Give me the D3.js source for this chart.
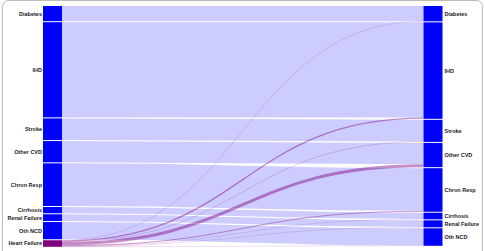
<!DOCTYPE html>
<html><head><meta charset="utf-8">
<script src="https://cdn.jsdelivr.net/npm/d3@7"></script>
<style>html,body{margin:0;padding:0;background:#fff;}svg{display:block;}</style>
</head><body>
<svg id="chart" width="485" height="251"></svg>
<script>
// Causes of death (left = assigned, right = redistributed)
const causes = ["Diabetes","IHD","Stroke","Other CVD","Chron Resp","Cirrhosis","Renal Failure","Oth NCD"];
const sourceExtra = "Heart Failure";
// values retained by each cause (left node -> same right node)
const retained = [15.2, 95.3, 21.7, 21.3, 42.7, 6.3, 6.7, 17.3];
// heart failure redistributed to each cause
const heartFailureTo = [0.15, 1.3, 0.4, 3.0, 0.9, 0.3, 0.3, 0.2];

(function(){
const svg = d3.select("#chart");
const yTop = 6, yBottom = 246.8, pad = 1;
const nodeW = 19;
const xL = 43, xR = 423.5;

const leftNodes = causes.map((c,i)=>({name:c, value:retained[i], side:"L", color:"#0000ff"}));
leftNodes.push({name:sourceExtra, value:d3.sum(heartFailureTo), side:"L", color:"#800080"});
const rightNodes = causes.map((c,i)=>({name:c, value:retained[i]+heartFailureTo[i], side:"R", color:"#0000ff"}));

const leftSum = d3.sum(leftNodes, d=>d.value);
const rightSum = d3.sum(rightNodes, d=>d.value);
const ky = Math.min((yBottom-yTop-(leftNodes.length-1)*pad)/leftSum, (yBottom-yTop-(rightNodes.length-1)*pad)/rightSum);
const k = d3.scaleLinear().domain([0,1]).range([0,ky]);

function place(nodes, x){
  let y = yTop;
  nodes.forEach(n=>{ n.x0=x; n.x1=x+nodeW; n.y0=y; n.y1=y+k(n.value); y=n.y1+pad; n.outY=n.y0; n.inY=n.y0; });
}
place(leftNodes, xL);
place(rightNodes, xR);

const links = [];
causes.forEach((c,i)=>links.push({source:leftNodes[i], target:rightNodes[i], value:retained[i], hf:false}));
causes.forEach((c,i)=>links.push({source:leftNodes[8], target:rightNodes[i], value:heartFailureTo[i], hf:true}));
links.forEach(l=>{
  const w = k(l.value);
  l.width = w;
  l.y0 = l.source.outY + w/2; l.source.outY += w;
  l.y1 = l.target.inY + w/2; l.target.inY += w;
});

const linkGen = d3.linkHorizontal().source(d=>[d.source.x1, d.y0]).target(d=>[d.target.x0, d.y1]);

svg.append("g").selectAll("path").data(links.filter(l=>!l.hf)).join("path")
  .attr("d", linkGen).attr("fill","none")
  .attr("stroke","#0000ff").attr("stroke-opacity",0.2)
  .attr("stroke-width", d=>Math.max(0.3,d.width));

svg.append("g").selectAll("path").data(links.filter(l=>l.hf)).join("path")
  .attr("d", linkGen).attr("fill","none")
  .attr("stroke","#800080").attr("stroke-opacity",0.45)
  .attr("stroke-width", d=>Math.max(0.3,d.width));

const allNodes = leftNodes.concat(rightNodes);
svg.append("g").selectAll("rect").data(allNodes).join("rect")
  .attr("x", d=>d.x0).attr("y", d=>d.y0)
  .attr("width", d=>d.x1-d.x0).attr("height", d=>d.y1-d.y0)
  .attr("fill", d=>d.color);

svg.append("g").selectAll("text").data(allNodes).join("text")
  .attr("x", d=>d.side==="L" ? d.x0-1 : d.x1+2)
  .attr("y", d=>(d.y0+d.y1)/2)
  .attr("dy","0.35em")
  .attr("text-anchor", d=>d.side==="L" ? "end" : "start")
  .attr("font-family","Liberation Sans, Arial, sans-serif")
  .attr("font-size","5.5px").attr("font-weight","bold")
  .attr("fill","#222")
  .text(d=>d.name);

svg.append("rect").attr("x",2.5).attr("y",0.5).attr("width",480).attr("height",300)
  .attr("rx",6).attr("fill","none").attr("stroke","#bbb").attr("stroke-width",1);
})();
</script>
</body></html>
